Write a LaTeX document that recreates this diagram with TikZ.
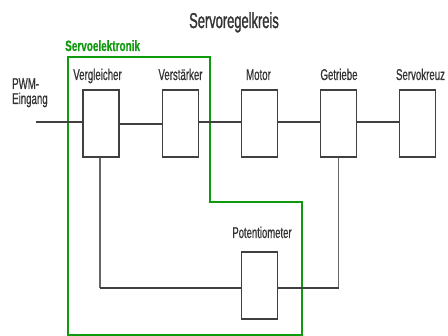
\documentclass[tikz,border=0pt]{standalone}
\usepackage{fontspec}
\setmainfont[FakeBold=1.0]{Liberation Sans}
\newfontfamily\titlefont[FakeBold=1.6]{Liberation Sans}
\newfontfamily\grpfont[FakeBold=0.6]{Liberation Sans Bold}
\definecolor{ink}{HTML}{333333}
\definecolor{wire}{HTML}{404040}
\definecolor{fbwire}{HTML}{666666}
\definecolor{grp}{HTML}{109A10}
% narrow lettering
\newcommand\narrowtxt[2][0.62]{\scalebox{#1}[1]{#2}}
\tikzset{
  block/.style={draw=wire, line width=1.4pt, fill=white, minimum width=36pt, minimum height=67pt, inner sep=0pt},
  lbl/.style={text=ink, font=\fontsize{15.6}{15.6}\selectfont, inner sep=0pt, anchor=base},
  sig/.style={draw=wire, line width=1.5pt},
  fb/.style={draw=fbwire, line width=1.4pt},
  grpline/.style={draw=grp, line width=1.3pt}
}
\begin{document}
\begin{tikzpicture}[x=1pt, y=-1pt]
\useasboundingbox (0,0) rectangle (448,336);

% title
\node[lbl, font=\fontsize{21.5}{21.5}\titlefont] (title) at (234,28) {\narrowtxt[0.6]{Servoregelkreis}};

% servo electronics group outline
\draw[grpline] (68,57) -- (210,57) -- (210,202) -- (302,202) -- (302,335) -- (68,335) -- cycle;
\node[lbl, anchor=base west, text=grp, font=\fontsize{15}{15}\grpfont] (grplabel) at (65,51) {\narrowtxt[0.665]{Servoelektronik}};

% input label
\node[lbl, anchor=base west] (pwm) at (12,89) {\narrowtxt{PWM-}};
\node[lbl, anchor=base west] (eing) at (12,104) {\narrowtxt{Eingang}};
\coordinate (in) at (36,122);

% forward path blocks
\node[block] (b1) at (101,123.5) {};
\node[block] (b2) at (180.5,123.5) {};
\node[block] (b3) at (259.5,123.5) {};
\node[block] (b4) at (338.5,123.5) {};
\node[block] (b5) at (417.5,123.5) {};
\node[block] (pot) at (259.5,285.5) {};

% block labels
\node[lbl] (l1) at (97.5,80) {\narrowtxt{Vergleicher}};
\node[lbl] (l2) at (180.5,80) {\narrowtxt{Verstärker}};
\node[lbl] (l3) at (258.5,80) {\narrowtxt{Motor}};
\node[lbl] (l4) at (339,80) {\narrowtxt{Getriebe}};
\node[lbl] (l5) at (420.5,80) {\narrowtxt{Servokreuz}};
\node[lbl] (l6) at (262,238) {\narrowtxt[0.61]{Potentiometer}};

% forward signal path
\draw[sig] (in) -- ([yshift=1.5pt]b1.west);
\draw[sig] ([yshift=-0.5pt]b1.east) -- ([yshift=-0.5pt]b2.west);
\draw[sig] ([yshift=1.5pt]b2.east) -- ([yshift=1.5pt]b3.west);
\draw[sig] ([yshift=1.5pt]b3.east) -- ([yshift=1.5pt]b4.west);
\draw[sig] ([yshift=1.5pt]b4.east) -- ([yshift=1.5pt]b5.west);

% feedback through the potentiometer
\coordinate (potl) at ([yshift=-2.5pt]pot.west);
\coordinate (potr) at ([yshift=-2.5pt]pot.east);
\draw[fb] ([xshift=-1pt]b1.south) -- ([xshift=-1pt]b1.south |- potl);
\draw[sig] ([xshift=-1pt]b1.south |- potl) -- (potl);
\draw[fb] (b4.south) -- (b4.south |- potr);
\draw[sig] (potr) -- (b4.south |- potr);
\end{tikzpicture}
\end{document}
